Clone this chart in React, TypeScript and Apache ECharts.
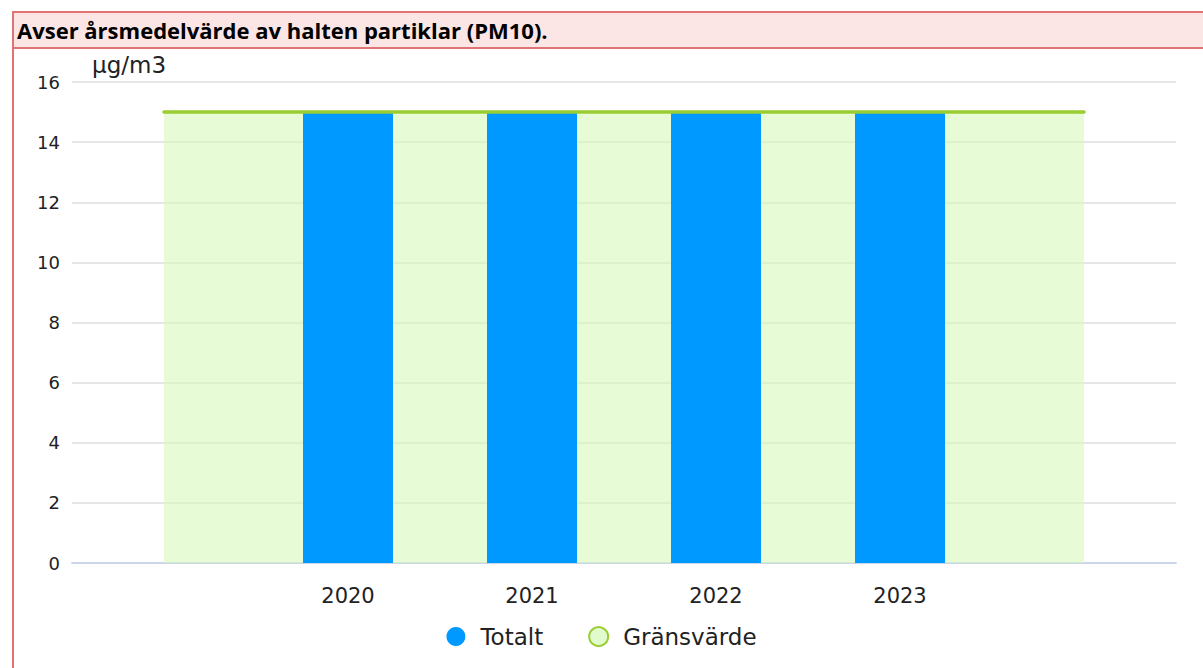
import React, { useEffect, useRef } from "react";
import * as echarts from "echarts";

const categories = ["", "2020", "2021", "2022", "2023", ""];
const totalt = [null, 15, 15, 15, 15, null];
const gransvarde = [15, 15, 15, 15, 15, 15];
const titleText = "Avser årsmedelvärde av halten partiklar (PM10).";
const unitText = "µg/m3";

export default function App() {
  const ref = useRef<HTMLDivElement>(null);
  useEffect(() => {
    if (!ref.current) return;
    const chart = echarts.init(ref.current, undefined, { renderer: "svg" });
    chart.setOption({
      animation: false,
      grid: { left: 72, right: 27, top: 82, bottom: 105 },
      legend: {
        data: [
          { name: "Totalt", icon: "circle" },
          {
            name: "Gränsvärde",
            icon: "circle",
            itemStyle: { color: "#e2fbcc", borderColor: "#9acd32", borderWidth: 2 },
          },
        ],
        bottom: 15,
        left: "center",
        itemWidth: 19,
        itemHeight: 19,
        itemGap: 45,
        textStyle: { fontFamily: "DejaVu Sans", fontSize: 23, color: "#222", padding: [0, 0, 0, 10] },
      },
      xAxis: {
        type: "category",
        data: categories,
        boundaryGap: true,
        axisLine: { lineStyle: { color: "#ccd6eb", width: 2 } },
        axisTick: { show: false },
        axisLabel: { fontFamily: "DejaVu Sans", fontSize: 21, color: "#222", margin: 22 },
      },
      yAxis: {
        type: "value",
        min: 0,
        max: 16,
        interval: 2,
        name: unitText,
        nameLocation: "end",
        nameGap: 6,
        nameTextStyle: { fontFamily: "DejaVu Sans", fontSize: 23, color: "#222", align: "left", padding: [0, 0, 0, 20] },
        splitLine: { lineStyle: { color: "#e6e6e6", width: 2 } },
        axisLabel: { fontFamily: "DejaVu Sans", fontSize: 18, color: "#222", margin: 12 },
      },
      series: [
        {
          name: "_area",
          type: "line",
          data: gransvarde,
          symbol: "none",
          lineStyle: { width: 0 },
          areaStyle: { color: "rgba(214,250,186,0.85)" },
          z: 1,
          silent: true,
        },
        {
          name: "Totalt",
          type: "bar",
          data: totalt,
          barWidth: 90,
          itemStyle: { color: "#0099ff" },
          z: 2,
        },
        {
          name: "Gränsvärde",
          type: "line",
          data: gransvarde,
          symbol: "none",
          lineStyle: { color: "#9acd32", width: 3.5, cap: "round" },
          itemStyle: { color: "#e2fbcc", borderColor: "#9acd32" },
          z: 3,
        },
      ],
    });
    return () => chart.dispose();
  }, []);

  return (
    <div style={{ position: "absolute", left: 0, top: 0, width: 1203, height: 668, background: "#fff", overflow: "hidden" }}>
      <div ref={ref} style={{ position: "absolute", left: 0, top: 0, width: 1203, height: 668 }} />
      <div
        style={{
          position: "absolute",
          left: 12,
          top: 11,
          width: 1200,
          height: 700,
          border: "2px solid #e07474",
          boxSizing: "border-box",
          pointerEvents: "none",
        }}
      />
      <div
        style={{
          position: "absolute",
          left: 14,
          top: 13,
          width: 1200,
          height: 34,
          background: "#fbe5e5",
          borderBottom: "2px solid #e07474",
          fontFamily: "'Open Sans', Lato, sans-serif",
          fontWeight: "bold",
          fontSize: 22,
          lineHeight: "34px",
          paddingLeft: 3,
          color: "#000",
        }}
      >
        {titleText}
      </div>
    </div>
  );
}
